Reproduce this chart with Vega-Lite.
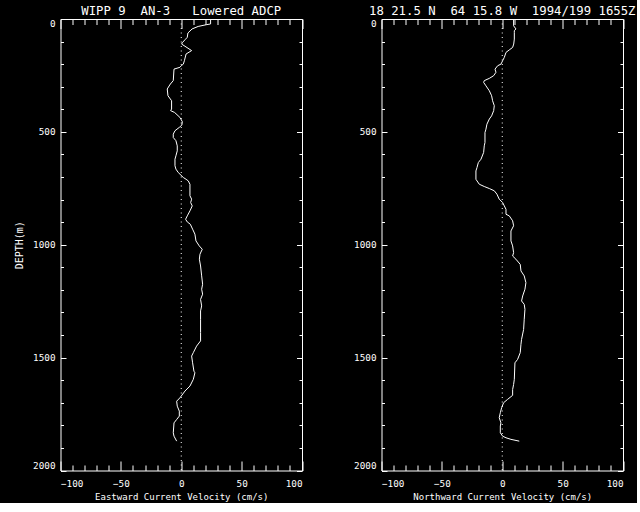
{
  "$schema": "https://vega.github.io/schema/vega-lite/v6.json",
  "background": "black",
  "padding": {"left": 13.5, "top": 4, "right": 0, "bottom": 0},
  "datasets": {
    "east": [{"depth":0,"v":24.3},{"depth":22,"v":24.3},{"depth":25,"v":21},{"depth":33,"v":14},{"depth":44,"v":9},{"depth":62,"v":5.5},{"depth":81,"v":5.0},{"depth":92,"v":3.1},{"depth":103,"v":1.2},{"depth":111,"v":0.3},{"depth":140,"v":8.6},{"depth":155,"v":4.0},{"depth":185,"v":2.6},{"depth":200,"v":1.7},{"depth":207,"v":0},{"depth":214,"v":-1.1},{"depth":222,"v":-6.0},{"depth":273,"v":-6.6},{"depth":288,"v":-9},{"depth":310,"v":-11.6},{"depth":340,"v":-11},{"depth":362,"v":-8.0},{"depth":399,"v":-8.0},{"depth":406,"v":-8.8},{"depth":414,"v":-5.5},{"depth":436,"v":-1.1},{"depth":455,"v":0.9},{"depth":470,"v":0.5},{"depth":480,"v":-1.6},{"depth":495,"v":-5.2},{"depth":510,"v":-6.6},{"depth":525,"v":-6.6},{"depth":539,"v":-4.4},{"depth":562,"v":-3.3},{"depth":584,"v":-3.3},{"depth":606,"v":-4.4},{"depth":621,"v":-5.2},{"depth":650,"v":-5.2},{"depth":665,"v":-4.4},{"depth":680,"v":-2.5},{"depth":702,"v":1.7},{"depth":710,"v":4},{"depth":717,"v":5.8},{"depth":732,"v":7.2},{"depth":783,"v":7.2},{"depth":798,"v":8.6},{"depth":813,"v":7.8},{"depth":828,"v":9.1},{"depth":850,"v":7.2},{"depth":872,"v":5.0},{"depth":887,"v":3.6},{"depth":899,"v":5.0},{"depth":909,"v":7.5},{"depth":931,"v":9.4},{"depth":953,"v":11.3},{"depth":983,"v":12.2},{"depth":1005,"v":14.9},{"depth":1020,"v":17.4},{"depth":1042,"v":15.5},{"depth":1064,"v":15.0},{"depth":1094,"v":16.0},{"depth":1138,"v":16.9},{"depth":1175,"v":17.7},{"depth":1197,"v":16.9},{"depth":1219,"v":17.7},{"depth":1242,"v":16.0},{"depth":1271,"v":16.9},{"depth":1293,"v":16.0},{"depth":1330,"v":16.0},{"depth":1389,"v":16.0},{"depth":1426,"v":16.0},{"depth":1449,"v":12.7},{"depth":1478,"v":10.0},{"depth":1493,"v":8.6},{"depth":1523,"v":9.4},{"depth":1560,"v":10.5},{"depth":1567,"v":11.3},{"depth":1596,"v":10.0},{"depth":1626,"v":7.2},{"depth":1648,"v":3.1},{"depth":1678,"v":-1.1},{"depth":1693,"v":-3.8},{"depth":1715,"v":-3.3},{"depth":1737,"v":-1.6},{"depth":1759,"v":-1.6},{"depth":1774,"v":-3.8},{"depth":1789,"v":-6.0},{"depth":1833,"v":-6.6},{"depth":1848,"v":-6.0},{"depth":1870,"v":-3.8}],
    "north": [{"depth":0,"v":9.4},{"depth":30,"v":9.4},{"depth":44,"v":11.3},{"depth":52,"v":10.0},{"depth":59,"v":10.0},{"depth":89,"v":10.0},{"depth":111,"v":9.5},{"depth":126,"v":8.6},{"depth":137,"v":5.8},{"depth":148,"v":3.1},{"depth":170,"v":1.7},{"depth":185,"v":0.3},{"depth":200,"v":-1.1},{"depth":207,"v":-3.8},{"depth":222,"v":-6.0},{"depth":236,"v":-5.2},{"depth":251,"v":-7.1},{"depth":263,"v":-10.7},{"depth":273,"v":-14.9},{"depth":281,"v":-15.4},{"depth":296,"v":-13.5},{"depth":318,"v":-10.7},{"depth":340,"v":-8.8},{"depth":362,"v":-8.0},{"depth":384,"v":-6.6},{"depth":406,"v":-7.1},{"depth":429,"v":-8.8},{"depth":443,"v":-10.7},{"depth":466,"v":-12.7},{"depth":488,"v":-13.5},{"depth":503,"v":-14.3},{"depth":547,"v":-14.3},{"depth":562,"v":-14.9},{"depth":591,"v":-15.4},{"depth":621,"v":-17.6},{"depth":636,"v":-19.8},{"depth":658,"v":-20.9},{"depth":673,"v":-21.8},{"depth":710,"v":-21.8},{"depth":732,"v":-19.0},{"depth":742,"v":-14.9},{"depth":751,"v":-10.7},{"depth":761,"v":-6.6},{"depth":776,"v":-4.4},{"depth":798,"v":-2.5},{"depth":813,"v":0.3},{"depth":828,"v":1.7},{"depth":843,"v":3.1},{"depth":865,"v":3.1},{"depth":872,"v":5.8},{"depth":894,"v":8.6},{"depth":916,"v":9.4},{"depth":939,"v":7.2},{"depth":983,"v":7.2},{"depth":1005,"v":8.6},{"depth":1035,"v":9.4},{"depth":1050,"v":8.6},{"depth":1064,"v":11.3},{"depth":1087,"v":14.9},{"depth":1116,"v":15.5},{"depth":1138,"v":18.2},{"depth":1168,"v":19.6},{"depth":1197,"v":18.8},{"depth":1227,"v":16.9},{"depth":1249,"v":16.0},{"depth":1264,"v":18.2},{"depth":1286,"v":18.8},{"depth":1330,"v":18.2},{"depth":1375,"v":17.7},{"depth":1419,"v":16.0},{"depth":1441,"v":15.5},{"depth":1478,"v":14.9},{"depth":1508,"v":12.7},{"depth":1523,"v":10.5},{"depth":1596,"v":10.0},{"depth":1619,"v":9.4},{"depth":1641,"v":8.6},{"depth":1667,"v":8.6},{"depth":1685,"v":4.4},{"depth":1700,"v":1.1},{"depth":1722,"v":-0.5},{"depth":1744,"v":-1.6},{"depth":1766,"v":-2.5},{"depth":1789,"v":-1.1},{"depth":1803,"v":-1.6},{"depth":1833,"v":-1.6},{"depth":1848,"v":0.3},{"depth":1855,"v":3.1},{"depth":1862,"v":7.2},{"depth":1870,"v":14.1}]
  },
  "spacing": 79,
  "bounds": "flush",
  "hconcat": [
    {
      "width": 241.5,
      "height": 451.5,
      "title": {"text": "WIPP 9\u00a0\u00a0AN-3\u00a0\u00a0\u00a0Lowered ADCP", "frame": "group", "anchor": "middle", "baseline": "alphabetic", "offset": -10},
      "data": {"name": "east"},
      "layer": [
        {
          "mark": {"type": "line", "color": "white", "strokeWidth": 1},
          "encoding": {
            "x": {"field": "v", "type": "quantitative", "scale": {"domain": [-100, 100], "nice": false, "zero": false},
              "axis": {"orient": "bottom", "values": [-100, -50, 0, 50, 100], "ticks": false, "labelPadding": 15.7, "labelBaseline": "alphabetic", "title": "Eastward Current Velocity (cm/s)", "titleY": 29, "titleBaseline": "alphabetic"}},
            "y": {"field": "depth", "type": "quantitative", "scale": {"domain": [0, 2000], "reverse": true, "nice": false, "zero": false},
              "axis": {"orient": "left", "values": [0, 500, 1000, 1500, 2000], "format": "d", "ticks": false, "labelPadding": 5.5, "labelFlush": true, "labelFlushOffset": 0, "title": "DEPTH(m)", "titleX": -38, "titleY": 225.75, "titleAngle": -90, "titleBaseline": "alphabetic", "titleAlign": "center", "titleFontSize": 10}},
            "order": {"field": "depth", "type": "quantitative"}
          }
        },
        {
          "mark": {"type": "point", "opacity": 0, "size": 1},
          "encoding": {
            "x": {"field": "v", "type": "quantitative", "axis": {"orient": "bottom", "values": [-100, -50, 0, 50, 100], "labels": false, "tickSize": -9.5, "title": null}},
            "y": {"field": "depth", "type": "quantitative", "axis": {"orient": "left", "values": [0, 500, 1000, 1500, 2000], "labels": false, "tickSize": -5.5, "title": null}}
          }
        },
        {
          "mark": {"type": "point", "opacity": 0, "size": 1},
          "encoding": {
            "x": {"field": "v", "type": "quantitative", "axis": {"orient": "bottom", "values": [-90, -80, -70, -60, -40, -30, -20, -10, 10, 20, 30, 40, 60, 70, 80, 90], "labels": false, "tickSize": -5.5, "title": null}},
            "y": {"field": "depth", "type": "quantitative", "axis": {"orient": "left", "values": [100, 200, 300, 400, 600, 700, 800, 900, 1100, 1200, 1300, 1400, 1600, 1700, 1800, 1900], "labels": false, "tickSize": -3, "title": null}}
          }
        },
        {
          "mark": {"type": "point", "opacity": 0, "size": 1},
          "encoding": {
            "x": {"field": "v", "type": "quantitative", "axis": {"orient": "top", "values": [-100, -50, 0, 50, 100], "labels": false, "tickSize": -9.5, "title": null}},
            "y": {"field": "depth", "type": "quantitative", "axis": {"orient": "right", "values": [0, 500, 1000, 1500, 2000], "labels": false, "tickSize": -5.5, "title": null}}
          }
        },
        {
          "mark": {"type": "point", "opacity": 0, "size": 1},
          "encoding": {
            "x": {"field": "v", "type": "quantitative", "axis": {"orient": "top", "values": [-90, -80, -70, -60, -40, -30, -20, -10, 10, 20, 30, 40, 60, 70, 80, 90], "labels": false, "tickSize": -5.5, "title": null}},
            "y": {"field": "depth", "type": "quantitative", "axis": {"orient": "right", "values": [100, 200, 300, 400, 600, 700, 800, 900, 1100, 1200, 1300, 1400, 1600, 1700, 1800, 1900], "labels": false, "tickSize": -3, "title": null}}
          }
        },
        {
          "data": {"values": [{"ref": 0}]},
          "mark": {"type": "rule", "color": "white", "strokeWidth": 1, "strokeDash": [1, 3.5]},
          "encoding": {"x": {"field": "ref", "type": "quantitative", "axis": null}}
        }
      ],
      "resolve": {"axis": {"x": "independent", "y": "independent"}}
    },
    {
      "width": 241.5,
      "height": 451.5,
      "title": {"text": "18 21.5 N\u00a0\u00a064 15.8 W\u00a0\u00a01994/199 1655Z", "frame": "group", "anchor": "middle", "baseline": "alphabetic", "offset": -10},
      "data": {"name": "north"},
      "layer": [
        {
          "mark": {"type": "line", "color": "white", "strokeWidth": 1},
          "encoding": {
            "x": {"field": "v", "type": "quantitative", "scale": {"domain": [-100, 100], "nice": false, "zero": false},
              "axis": {"orient": "bottom", "values": [-100, -50, 0, 50, 100], "ticks": false, "labelPadding": 15.7, "labelBaseline": "alphabetic", "title": "Northward Current Velocity (cm/s)", "titleY": 29, "titleBaseline": "alphabetic"}},
            "y": {"field": "depth", "type": "quantitative", "scale": {"domain": [0, 2000], "reverse": true, "nice": false, "zero": false},
              "axis": {"orient": "left", "values": [0, 500, 1000, 1500, 2000], "format": "d", "ticks": false, "labelPadding": 5.5, "labelFlush": true, "labelFlushOffset": 0, "title": null}},
            "order": {"field": "depth", "type": "quantitative"}
          }
        },
        {
          "mark": {"type": "point", "opacity": 0, "size": 1},
          "encoding": {
            "x": {"field": "v", "type": "quantitative", "axis": {"orient": "bottom", "values": [-100, -50, 0, 50, 100], "labels": false, "tickSize": -9.5, "title": null}},
            "y": {"field": "depth", "type": "quantitative", "axis": {"orient": "left", "values": [0, 500, 1000, 1500, 2000], "labels": false, "tickSize": -5.5, "title": null}}
          }
        },
        {
          "mark": {"type": "point", "opacity": 0, "size": 1},
          "encoding": {
            "x": {"field": "v", "type": "quantitative", "axis": {"orient": "bottom", "values": [-90, -80, -70, -60, -40, -30, -20, -10, 10, 20, 30, 40, 60, 70, 80, 90], "labels": false, "tickSize": -5.5, "title": null}},
            "y": {"field": "depth", "type": "quantitative", "axis": {"orient": "left", "values": [100, 200, 300, 400, 600, 700, 800, 900, 1100, 1200, 1300, 1400, 1600, 1700, 1800, 1900], "labels": false, "tickSize": -3, "title": null}}
          }
        },
        {
          "mark": {"type": "point", "opacity": 0, "size": 1},
          "encoding": {
            "x": {"field": "v", "type": "quantitative", "axis": {"orient": "top", "values": [-100, -50, 0, 50, 100], "labels": false, "tickSize": -9.5, "title": null}},
            "y": {"field": "depth", "type": "quantitative", "axis": {"orient": "right", "values": [0, 500, 1000, 1500, 2000], "labels": false, "tickSize": -5.5, "title": null}}
          }
        },
        {
          "mark": {"type": "point", "opacity": 0, "size": 1},
          "encoding": {
            "x": {"field": "v", "type": "quantitative", "axis": {"orient": "top", "values": [-90, -80, -70, -60, -40, -30, -20, -10, 10, 20, 30, 40, 60, 70, 80, 90], "labels": false, "tickSize": -5.5, "title": null}},
            "y": {"field": "depth", "type": "quantitative", "axis": {"orient": "right", "values": [100, 200, 300, 400, 600, 700, 800, 900, 1100, 1200, 1300, 1400, 1600, 1700, 1800, 1900], "labels": false, "tickSize": -3, "title": null}}
          }
        },
        {
          "data": {"values": [{"ref": 0}]},
          "mark": {"type": "rule", "color": "white", "strokeWidth": 1, "strokeDash": [1, 3.5]},
          "encoding": {"x": {"field": "ref", "type": "quantitative", "axis": null}}
        }
      ],
      "resolve": {"axis": {"x": "independent", "y": "independent"}}
    }
  ],
  "config": {
    "background": "black",
    "view": {"stroke": "white", "strokeWidth": 1},
    "axis": {"domain": false, "grid": false, "labelColor": "white", "titleColor": "white", "tickColor": "white", "tickWidth": 1, "labelFont": "DejaVu Sans Mono", "titleFont": "DejaVu Sans Mono", "labelFontSize": 9.3, "titleFontSize": 9, "titleFontWeight": "normal"},
    "title": {"color": "white", "font": "DejaVu Sans Mono", "fontSize": 12.3, "fontWeight": "normal"}
  }
}
